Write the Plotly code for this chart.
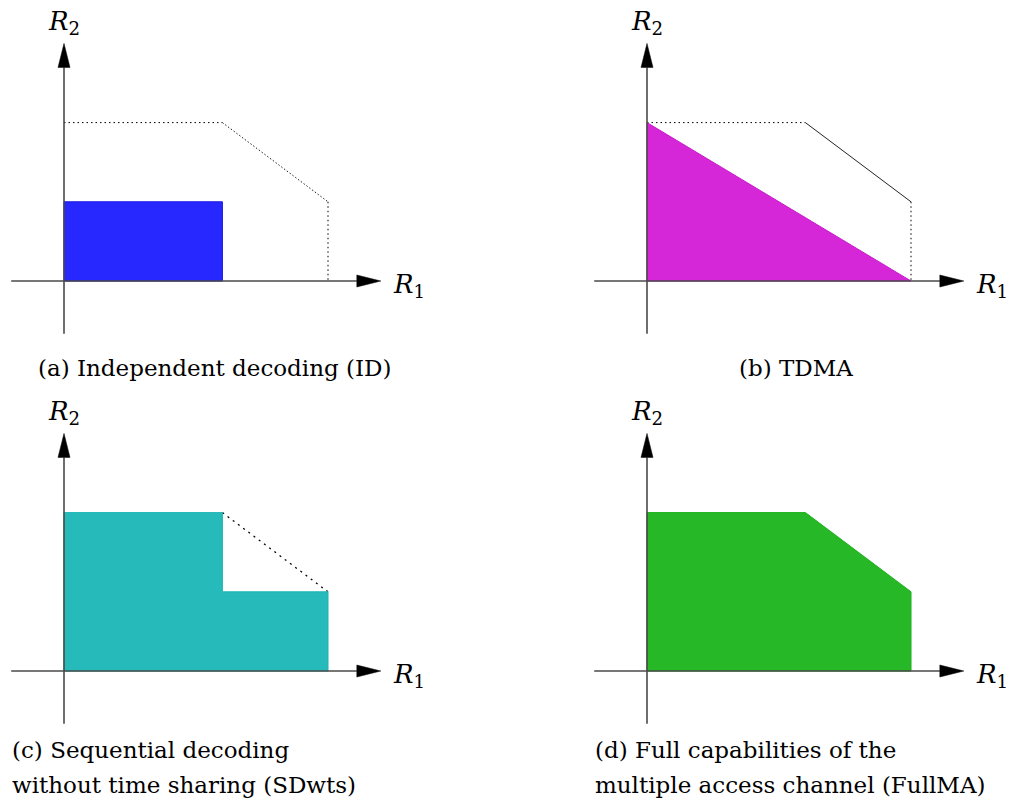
import plotly.graph_objects as go

# Rate-region corner values (R1 horizontal, R2 vertical)
r1_single = 1.0   # largest R1 (user 1 alone)
r2_single = 0.6   # largest R2 (user 2 alone)
r1_id = 0.6       # R1 when user 2 is treated as noise
r2_id = 0.3       # R2 when user 1 is treated as noise

# Regions as polygon vertex lists
id_r1 = [0.0, 0.0, r1_id, r1_id]
id_r2 = [0.0, r2_id, r2_id, 0.0]
tdma_r1 = [0.0, 0.0, r1_single]
tdma_r2 = [0.0, r2_single, 0.0]
sdwts_r1 = [0.0, 0.0, r1_id, r1_id, r1_single, r1_single]
sdwts_r2 = [0.0, r2_single, r2_single, r2_id, r2_id, 0.0]
fullma_r1 = [0.0, 0.0, r1_id, r1_single, r1_single]
fullma_r2 = [0.0, r2_single, r2_single, r2_id, 0.0]

# Capacity-region outline pieces
top_r1, top_r2 = [0.0, r1_id], [r2_single, r2_single]
diag_r1, diag_r2 = [r1_id, r1_single], [r2_single, r2_id]
side_r1, side_r2 = [r1_single, r1_single], [r2_id, 0.0]

captions = {
    "a": ["(a) Independent decoding (ID)"],
    "b": ["(b) TDMA"],
    "c": ["(c) Sequential decoding", "without time sharing (SDwts)"],
    "d": ["(d) Full capabilities of the", "multiple access channel (FullMA)"],
}

W, H = 1011, 808
S = 264.0  # pixels per rate unit
FONT = "DejaVu Serif"
CAP_SIZE = 23

# Panel layout: (x-domain px, y-domain px (top, bottom), origin px)
panels = {
    "a": ((0, 505.5), (0, 395), (64, 281)),
    "b": ((505.5, 1011), (0, 395), (647, 281)),
    "c": ((0, 505.5), (395, 808), (64, 671)),
    "d": ((505.5, 1011), (395, 808), (647, 671)),
}

fig = go.Figure()
layout = dict(width=W, height=H, margin=dict(l=0, r=0, t=0, b=0),
              paper_bgcolor="white", plot_bgcolor="white", showlegend=False)
annotations = []

AX_MIN, X_TIP, Y_TIP = -0.2, 1.2, 0.9
HEAD_L, HEAD_W = 24 / S, 6 / S


def add(trace, i):
    trace.update(xaxis="x" if i == 1 else f"x{i}", yaxis="y" if i == 1 else f"y{i}",
                 hoverinfo="skip", showlegend=False)
    fig.add_trace(trace)


def poly(i, xs, ys, fill, edge):
    add(go.Scatter(x=xs + [xs[0]], y=ys + [ys[0]], mode="lines", fill="toself",
                   fillcolor=fill, line=dict(color=edge, width=1)), i)


def seg(i, xs, ys, dash, width=1, color="black"):
    add(go.Scatter(x=xs, y=ys, mode="lines",
                   line=dict(color=color, width=width, dash=dash)), i)


def axes_arrows(i):
    seg(i, [AX_MIN, X_TIP - HEAD_L], [0, 0], "solid", 1.6, "#4a4a4a")
    seg(i, [0, 0], [AX_MIN, Y_TIP - HEAD_L], "solid", 1.6, "#4a4a4a")
    add(go.Scatter(x=[X_TIP - HEAD_L, X_TIP, X_TIP - HEAD_L, X_TIP - HEAD_L],
                   y=[HEAD_W, 0, -HEAD_W, HEAD_W], mode="lines", fill="toself",
                   fillcolor="black", line=dict(color="black", width=0.5)), i)
    add(go.Scatter(x=[-HEAD_W, 0, HEAD_W, -HEAD_W],
                   y=[Y_TIP - HEAD_L, Y_TIP, Y_TIP - HEAD_L, Y_TIP - HEAD_L],
                   mode="lines", fill="toself",
                   fillcolor="black", line=dict(color="black", width=0.5)), i)


for i, key in enumerate(["a", "b", "c", "d"], start=1):
    (x0, x1), (yt, yb), (ox, oy) = panels[key]
    xr = [(x0 - ox) / S, (x1 - ox) / S]
    yr = [-(yb - oy) / S, (oy - yt) / S]
    sfx = "" if i == 1 else str(i)
    layout[f"xaxis{sfx}"] = dict(domain=[x0 / W, x1 / W], range=xr, visible=False,
                                 fixedrange=True)
    layout[f"yaxis{sfx}"] = dict(domain=[1 - yb / H, 1 - yt / H], range=yr, visible=False,
                                 fixedrange=True)
    xref, yref = f"x{sfx}", f"y{sfx}"

    if key == "a":
        seg(i, top_r1, top_r2, "1.5px,3px")
        seg(i, diag_r1, diag_r2, "1.5px,2px", 1, "#222222")
        seg(i, side_r1, side_r2, "1.5px,3px")
        poly(i, id_r1, id_r2, "#2727FF", "#1515E6")
    elif key == "b":
        seg(i, top_r1, top_r2, "1.5px,3px")
        seg(i, diag_r1, diag_r2, "solid", 1, "#222222")
        seg(i, side_r1, side_r2, "1.5px,3px")
        poly(i, tdma_r1, tdma_r2, "#D527D7", "#C81ECB")
    elif key == "c":
        seg(i, diag_r1, diag_r2, "2px,4.5px", 1.3)
        poly(i, sdwts_r1, sdwts_r2, "#26BABA", "#1FB5B5")
    else:
        poly(i, fullma_r1, fullma_r2, "#26B826", "#1CB01C")

    axes_arrows(i)

    annotations.append(dict(x=0, y=259 / S, xref=xref, yref=yref,
                            text="<i>R</i><sub>2</sub>", showarrow=False,
                            xanchor="center", yanchor="middle",
                            font=dict(family=FONT, size=26, color="black")))
    annotations.append(dict(x=X_TIP + 10 / S, y=-4 / S, xref=xref, yref=yref,
                            text="<i>R</i><sub>1</sub>", showarrow=False,
                            xanchor="left", yanchor="middle",
                            font=dict(family=FONT, size=26, color="black")))

    lines = captions[key]
    if len(lines) == 1:
        cx = (215 - 64) / S if key == "a" else (796 - 647) / S
        annotations.append(dict(x=cx, y=-87 / S, xref=xref, yref=yref, text=lines[0],
                                showarrow=False, xanchor="center", yanchor="middle",
                                font=dict(family=FONT, size=CAP_SIZE, color="black")))
    else:
        for j, line in enumerate(lines):
            annotations.append(dict(x=-54 / S, y=-(79 + 35 * j) / S, xref=xref, yref=yref,
                                    text=line, showarrow=False, xanchor="left",
                                    yanchor="middle",
                                    font=dict(family=FONT, size=CAP_SIZE, color="black")))

layout["annotations"] = annotations
fig.update_layout(**layout)
fig.write_html("out.html")
